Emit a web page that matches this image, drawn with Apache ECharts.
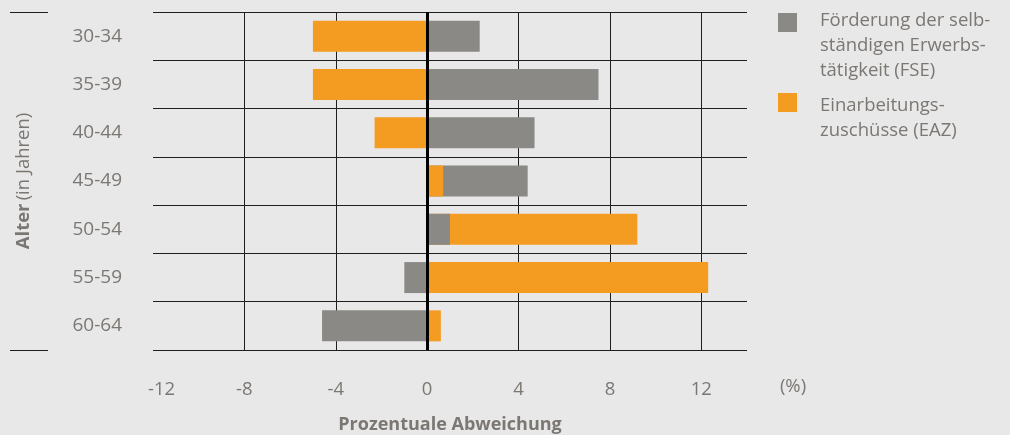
<!DOCTYPE html>
<html>
<head>
<meta charset="utf-8">
<script src="https://cdn.jsdelivr.net/npm/echarts@6/dist/echarts.min.js"></script>
<style>
html,body{margin:0;padding:0;background:#e8e8e8;}
#chart{width:1010px;height:435px;}
</style>
</head>
<body>
<div id="chart"></div>
<script>
var categories = ['30-34', '35-39', '40-44', '45-49', '50-54', '55-59', '60-64'];
var fseValues = [2.3, 7.5, 4.7, 4.4, 1.0, -1.0, -4.6];
var eazValues = [-5.0, -5.0, -2.3, 0.7, 9.2, 12.3, 0.6];
var xTicks = [-12, -8, -4, 0, 4, 8, 12];
var fseName = 'Förderung der selbständigen Erwerbstätigkeit (FSE)';
var eazName = 'Einarbeitungszuschüsse (EAZ)';

var FONT = '"Open Sans", "Noto Sans", sans-serif';
var TXT = '#7b7773';
var GRAY = '#8a8985';
var ORANGE = '#f39c21';
var LINE = '#1e1e1e';

// larger magnitude drawn behind, smaller in front
function pick(a, b, front) {
  return a.map(function (v, i) {
    var big = Math.abs(v) >= Math.abs(b[i]);
    return (front ? !big : big) ? v : '-';
  });
}

var barCommon = {
  type: 'bar',
  barWidth: 31,
  barGap: '-100%',
  silent: true
};

var chart = echarts.init(document.getElementById('chart'), null, {renderer: 'canvas'});
chart.setOption({
  backgroundColor: '#e8e8e8',
  animation: false,
  textStyle: {fontFamily: FONT},
  grid: {left: 153, right: 263, top: 12, bottom: 85, containLabel: false, outerBoundsMode: 'none'},
  xAxis: {
    type: 'value',
    min: xTicks[0],
    max: 14,
    interval: 4,
    axisLine: {show: false},
    axisTick: {show: false},
    axisLabel: {
      color: TXT, fontSize: 18.5, fontFamily: FONT, margin: 30,
      showMaxLabel: false,
      formatter: function (v) {
        if (xTicks.indexOf(v) < 0) return '';
        return v === xTicks[0] ? '{m|' + v + '}' : String(v);
      },
      rich: {m: {padding: [0, 0, 0, 17], color: TXT, fontSize: 18.5, fontFamily: FONT}}
    },
    splitLine: {show: true, showMinLine: false, showMaxLine: false, lineStyle: {color: LINE, width: 1}},
    name: 'Prozentuale Abweichung',
    nameLocation: 'middle',
    nameGap: 66,
    nameTextStyle: {color: TXT, fontSize: 18, fontWeight: 'bold', fontFamily: FONT}
  },
  yAxis: {
    type: 'category',
    data: categories,
    inverse: true,
    axisLine: {show: false},
    axisTick: {show: false},
    axisLabel: {color: TXT, fontSize: 19, fontFamily: FONT, margin: 31, align: 'right'},
    splitLine: {show: true, interval: 0, lineStyle: {color: LINE, width: 1}},
    name: '{b|Alter} {r|(in Jahren)}',
    nameLocation: 'middle',
    nameRotate: 90,
    nameGap: 120,
    nameTextStyle: {
      rich: {
        b: {color: TXT, fontSize: 18.5, fontWeight: 'bold', fontFamily: FONT},
        r: {color: TXT, fontSize: 18.5, fontFamily: FONT}
      }
    }
  },
  series: [
    Object.assign({}, barCommon, {name: fseName, data: pick(fseValues, eazValues, false), itemStyle: {color: GRAY}, z: 2}),
    Object.assign({}, barCommon, {name: eazName, data: pick(eazValues, fseValues, false), itemStyle: {color: ORANGE}, z: 2}),
    Object.assign({}, barCommon, {name: fseName, data: pick(fseValues, eazValues, true), itemStyle: {color: GRAY}, z: 3}),
    Object.assign({}, barCommon, {name: eazName, data: pick(eazValues, fseValues, true), itemStyle: {color: ORANGE}, z: 3,
      markLine: {
        silent: true, symbol: 'none', label: {show: false},
        lineStyle: {color: '#000', width: 3, type: 'solid'},
        data: [{xAxis: 0}], z: 5
      }})
  ],
  graphic: [
    {type: 'line', shape: {x1: 10, y1: 12.5, x2: 48, y2: 12.5}, style: {stroke: LINE, lineWidth: 1}},
    {type: 'line', shape: {x1: 10, y1: 350.5, x2: 48, y2: 350.5}, style: {stroke: LINE, lineWidth: 1}},
    {type: 'rect', shape: {x: 778, y: 13, width: 19, height: 19}, style: {fill: GRAY}},
    {type: 'text', x: 820, y: 8, style: {text: 'Förderung der selb-\nständigen Erwerbs-\ntätigkeit (FSE)', font: '18.5px ' + FONT, lineHeight: 25, fill: TXT}},
    {type: 'rect', shape: {x: 778, y: 93, width: 19, height: 19}, style: {fill: ORANGE}},
    {type: 'text', x: 820, y: 93, style: {text: 'Einarbeitungs-\nzuschüsse (EAZ)', font: '18.5px ' + FONT, lineHeight: 25, fill: TXT}},
    {type: 'text', x: 793, y: 387, style: {text: '(%)', font: '18.5px ' + FONT, fill: TXT, align: 'center', verticalAlign: 'middle'}}
  ]
});
</script>
</body>
</html>
